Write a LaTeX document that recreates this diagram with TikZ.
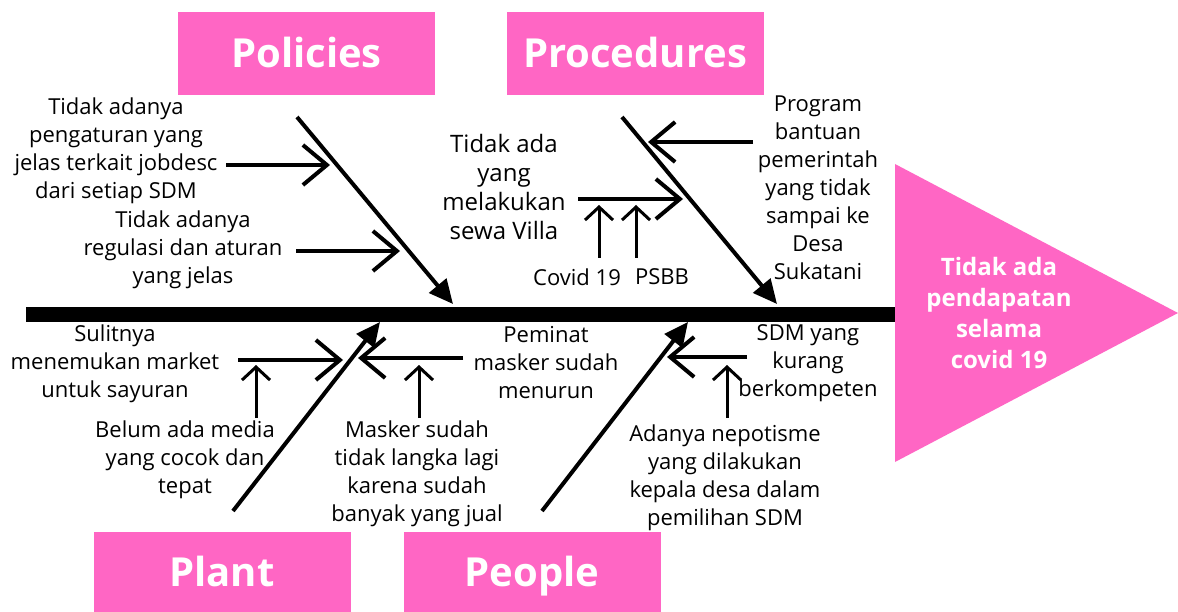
\documentclass[tikz,border=0pt]{standalone}
\usepackage{fontspec}
\setmainfont{Open Sans}
\usetikzlibrary{arrows.meta, positioning}
\definecolor{fishpink}{HTML}{FF66C4}

\begin{document}
\begin{tikzpicture}[x=1pt, y=-1pt,
    catbox/.style={fill=fishpink, text=white, minimum width=257pt, minimum height=83pt, inner sep=0pt, text height=29pt, text depth=0pt, font=\bfseries\fontsize{40}{48}\selectfont},
    cause/.style={align=center, inner sep=0pt, font=\fontsize{22}{28}\selectfont},
    bone/.style={line width=4pt, -{Triangle[length=24pt, width=22pt]}},
    sub/.style={line width=4pt, -{Straight Barb[length=24pt, width=40pt]}},
    minor/.style={line width=3pt, -{Straight Barb[length=13pt, width=28pt]}}]
    \fill[white] (0,0) rectangle (1178,612);
    \useasboundingbox (0,0) rectangle (1178,612);

    \node[catbox] (policies) at (306.5,53.5) {Policies};
    \node[catbox] (procedures) at (635,53.5) {Procedures};
    \node[catbox, minimum height=80pt] (plant) at (222,572) {Plant};
    \node[catbox, minimum height=80pt] (people) at (532,572) {People};

    \fill[fishpink] (895,164) -- (1178,313) -- (895,462) -- cycle;
    \node[align=center, text=white, font=\bfseries\fontsize{24}{31}\selectfont] (effect) at (999,313) {Tidak ada\\pendapatan\\selama\\covid 19};

    \coordinate (tail) at (26,314.5);
    \coordinate (spineE) at (895,314.5);
    \draw[line width=15pt] (tail) -- (spineE);

    \coordinate (polS) at (297,117);
    \coordinate (polE) at (453,304);
    \coordinate (proS) at (622,117);
    \coordinate (proE) at (777,304);
    \coordinate (plaS) at (233,511);
    \coordinate (plaE) at (380,322);
    \coordinate (peoS) at (542,511);
    \coordinate (peoE) at (688,322);
    \draw[bone] (polS) -- (polE);
    \draw[bone] (proS) -- (proE);
    \draw[bone] (plaS) -- (plaE);
    \draw[bone] (peoS) -- (peoE);

    \node[cause] (jobdesc) at (116,151) {Tidak adanya\\pengaturan yang\\jelas terkait jobdesc\\dari setiap SDM};
    \node[cause] (regulasi) at (183,250) {Tidak adanya\\regulasi dan aturan\\yang jelas};
    \coordinate (jobdescS) at (226,165);
    \coordinate (jobdescE) at (330,165);
    \coordinate (regulasiS) at (296,251);
    \coordinate (regulasiE) at (400,251);
    \draw[sub] (jobdescS) -- (jobdescE);
    \draw[sub] (regulasiS) -- (regulasiE);

    \node[cause, font=\fontsize{24}{29}\selectfont] (villa) at (504,187) {Tidak ada\\yang\\melakukan\\sewa Villa};
    \node[cause] (covid) at (577,277) {Covid 19};
    \node[cause] (psbb) at (662,277) {PSBB};
    \node[cause] (bantuan) at (818,188) {Program\\bantuan\\pemerintah\\yang tidak\\sampai ke\\Desa\\Sukatani};
    \coordinate (villaS) at (578,199);
    \coordinate (villaE) at (683,199);
    \coordinate (covidS) at (599,258);
    \coordinate (covidE) at (599,205);
    \coordinate (psbbS) at (636,258);
    \coordinate (psbbE) at (636,205);
    \coordinate (bantuanS) at (753,142);
    \coordinate (bantuanE) at (648,142);
    \draw[sub] (villaS) -- (villaE);
    \draw[minor] (covidS) -- (covidE);
    \draw[minor] (psbbS) -- (psbbE);
    \draw[sub] (bantuanS) -- (bantuanE);

    \node[cause] (market) at (115,364) {Sulitnya\\menemukan market\\untuk sayuran};
    \node[cause] (media) at (185,460) {Belum ada media\\yang cocok dan\\tepat};
    \node[cause] (peminat) at (546,363) {Peminat\\masker sudah\\menurun};
    \node[cause] (langka) at (417,474) {Masker sudah\\tidak langka lagi\\karena sudah\\banyak yang jual};
    \coordinate (marketS) at (238,360);
    \coordinate (marketE) at (343,360);
    \coordinate (mediaS) at (256,418);
    \coordinate (mediaE) at (256,365);
    \coordinate (peminatS) at (463,358);
    \coordinate (peminatE) at (358,358);
    \coordinate (langkaS) at (419,418);
    \coordinate (langkaE) at (419,365);
    \draw[sub] (marketS) -- (marketE);
    \draw[minor] (mediaS) -- (mediaE);
    \draw[sub] (peminatS) -- (peminatE);
    \draw[minor] (langkaS) -- (langkaE);

    \node[cause] (sdm) at (808,363) {SDM yang\\kurang\\berkompeten};
    \node[cause] (nepotisme) at (725,478) {Adanya nepotisme\\yang dilakukan\\kepala desa dalam\\pemilihan SDM};
    \coordinate (sdmS) at (747,357);
    \coordinate (sdmE) at (667,357);
    \coordinate (nepotismeS) at (727,418);
    \coordinate (nepotismeE) at (727,365);
    \draw[sub] (sdmS) -- (sdmE);
    \draw[minor] (nepotismeS) -- (nepotismeE);
\end{tikzpicture}
\end{document}
